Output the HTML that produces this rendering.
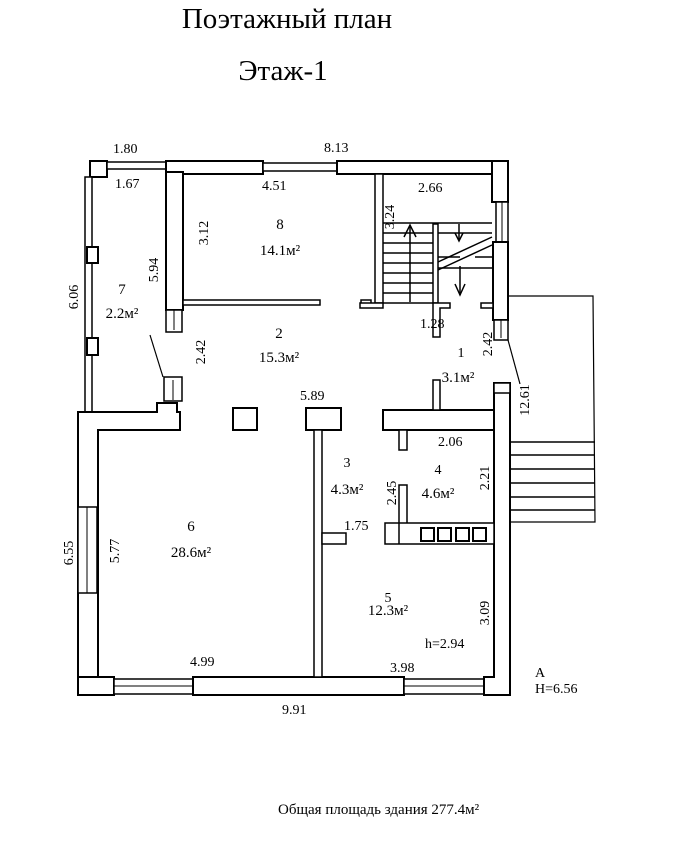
<!DOCTYPE html>
<html><head><meta charset="utf-8"><style>
html,body{margin:0;padding:0;background:#fff;}
svg{display:block}
text{font-family:"Liberation Serif",serif;fill:#000}
</style></head><body>
<svg width="677" height="843" viewBox="0 0 677 843" xmlns="http://www.w3.org/2000/svg">
<g fill="#fff" stroke="#000" stroke-width="2">
<rect x="90" y="161" width="17" height="16"/>
<rect x="107" y="162" width="60" height="7" stroke-width="1.5"/>
<rect x="166" y="161" width="97" height="13"/>
<rect x="263" y="163" width="74" height="8" stroke-width="1.5"/>
<rect x="337" y="161" width="171" height="13"/>
<rect x="166" y="172" width="17" height="138"/>
<rect x="166" y="310" width="16" height="22" stroke-width="1.5"/>
<line x1="174" y1="310" x2="174" y2="330" stroke-width="1"/>
<rect x="164" y="377" width="18" height="24" stroke-width="1.5"/>
<line x1="173" y1="380" x2="173" y2="400" stroke-width="1"/>
<rect x="85" y="177" width="7" height="236" stroke-width="1.5"/>
<rect x="87" y="247" width="11" height="16"/>
<rect x="87" y="338" width="11" height="17"/>
<path d="M78 412 L157 412 L157 403 L177 403 L177 412 L180 412 L180 430 L98 430 L98 677 L78 677 Z"/>
<rect x="78" y="507" width="19" height="86" stroke-width="1.5"/>
<line x1="87" y1="507" x2="87" y2="593" stroke-width="1"/>
<rect x="78" y="677" width="36" height="18"/>
<rect x="114" y="679" width="79" height="15" stroke-width="1.5"/>
<line x1="114" y1="686" x2="193" y2="686" stroke-width="1"/>
<rect x="193" y="677" width="211" height="18"/>
<rect x="404" y="679" width="80" height="15" stroke-width="1.5"/>
<line x1="404" y1="686" x2="484" y2="686" stroke-width="1"/>
<path d="M484 677 L494 677 L494 383 L510 383 L510 695 L484 695 Z"/>
<rect x="492" y="161" width="16" height="41"/>
<rect x="496" y="202" width="12" height="40" stroke-width="1.5"/>
<line x1="502" y1="202" x2="502" y2="242" stroke-width="1"/>
<rect x="493" y="242" width="15" height="78"/>
<rect x="494" y="320" width="14" height="20" stroke-width="1.5"/>
<line x1="501" y1="320" x2="501" y2="338" stroke-width="1"/>
<rect x="494" y="383" width="16" height="10" stroke-width="1.5"/>
<rect x="183" y="300" width="137" height="5" stroke-width="1.5"/>
<rect x="361" y="300" width="10" height="5" stroke-width="1.5"/>
<rect x="375" y="174" width="8" height="129" stroke-width="1.5"/>
<rect x="360" y="303" width="23" height="5" stroke-width="1.5"/>
<rect x="433" y="224" width="5" height="79" stroke-width="1.5"/>
<path d="M433 303 L450 303 L450 308 L440 308 L440 337 L433 337 Z" stroke-width="1.5"/>
<rect x="481" y="303" width="12" height="5" stroke-width="1.5"/>
<rect x="233" y="408" width="24" height="22"/>
<rect x="306" y="408" width="35" height="22"/>
<rect x="314" y="430" width="8" height="247" stroke-width="1.5"/>
<rect x="322" y="533" width="24" height="11" stroke-width="1.5"/>
<rect x="383" y="410" width="111" height="20"/>
<rect x="433" y="380" width="7" height="30" stroke-width="1.5"/>
<rect x="399" y="430" width="8" height="20" stroke-width="1.5"/>
<rect x="399" y="485" width="8" height="40" stroke-width="1.5"/>
<rect x="385" y="523" width="109" height="21" stroke-width="1.5"/>
<line x1="399" y1="523" x2="399" y2="544" stroke-width="1.5"/>
<rect x="421" y="528" width="13" height="13"/>
<rect x="438" y="528" width="13" height="13"/>
<rect x="456" y="528" width="13" height="13"/>
<rect x="473" y="528" width="13" height="13"/>
</g>
<g stroke="#000" stroke-width="1.5" fill="none">
<line x1="383" y1="223" x2="492" y2="223"/>
<line x1="383" y1="233" x2="433" y2="233"/><line x1="383" y1="243" x2="433" y2="243"/>
<line x1="383" y1="253" x2="433" y2="253"/><line x1="383" y1="263" x2="433" y2="263"/>
<line x1="383" y1="273" x2="433" y2="273"/><line x1="383" y1="283" x2="433" y2="283"/>
<line x1="383" y1="293" x2="433" y2="293"/><line x1="383" y1="303" x2="433" y2="303"/>
<line x1="438" y1="233" x2="492" y2="233"/>
<line x1="438" y1="257" x2="460" y2="257"/><line x1="475" y1="257" x2="492" y2="257"/>
<line x1="438" y1="268" x2="492" y2="268"/>
<line x1="438" y1="262" x2="492" y2="237"/>
<line x1="438" y1="270" x2="492" y2="245"/>
<line x1="410" y1="226" x2="410" y2="302"/>
<polyline points="404,237 410,225 416,237"/>
<line x1="459" y1="224" x2="459" y2="240"/><polyline points="455,233 459,241 463,233"/>
<line x1="460" y1="266" x2="460" y2="295"/><polyline points="455,284 460,295 465,284"/>
<polyline points="508,296 593,296 595,522 510,522" stroke-width="1.2"/>
<line x1="510" y1="442" x2="595" y2="442"/><line x1="510" y1="455" x2="595" y2="455"/>
<line x1="510" y1="469" x2="595" y2="469"/><line x1="510" y1="483" x2="595" y2="483"/>
<line x1="510" y1="497" x2="595" y2="497"/><line x1="510" y1="510" x2="595" y2="510"/>
<line x1="510" y1="442" x2="510" y2="522"/>
<line x1="508" y1="340" x2="520" y2="384" stroke-width="1.2"/>
<line x1="150" y1="335" x2="163" y2="377" stroke-width="1.2"/>
</g>
<g font-size="14">
<text x="287" y="28" font-size="29" text-anchor="middle">Поэтажный план</text>
<text x="283" y="80" font-size="29" text-anchor="middle">Этаж-1</text>
<text x="113" y="153">1.80</text>
<text x="324" y="152">8.13</text>
<text x="115" y="188">1.67</text>
<text x="262" y="190">4.51</text>
<text x="418" y="192">2.66</text>
<text x="280" y="229" text-anchor="middle" font-size="15">8</text>
<text x="280" y="255" text-anchor="middle" font-size="15">14.1м²</text>
<text x="122" y="294" text-anchor="middle" font-size="15">7</text>
<text x="122" y="318" text-anchor="middle" font-size="15">2.2м²</text>
<text x="279" y="338" text-anchor="middle" font-size="15">2</text>
<text x="279" y="362" text-anchor="middle" font-size="15">15.3м²</text>
<text x="420" y="328">1.28</text>
<text x="461" y="357" text-anchor="middle">1</text>
<text x="458" y="382" text-anchor="middle" font-size="15">3.1м²</text>
<text x="300" y="400">5.89</text>
<text x="438" y="446">2.06</text>
<text x="347" y="467" text-anchor="middle">3</text>
<text x="347" y="494" text-anchor="middle" font-size="15">4.3м²</text>
<text x="438" y="474" text-anchor="middle">4</text>
<text x="438" y="498" text-anchor="middle" font-size="15">4.6м²</text>
<text x="344" y="530">1.75</text>
<text x="191" y="531" text-anchor="middle" font-size="15">6</text>
<text x="191" y="557" text-anchor="middle" font-size="15">28.6м²</text>
<text x="388" y="602" text-anchor="middle">5</text>
<text x="388" y="615" text-anchor="middle" font-size="15">12.3м²</text>
<text x="425" y="648">h=2.94</text>
<text x="190" y="666">4.99</text>
<text x="390" y="672">3.98</text>
<text x="535" y="677">A</text>
<text x="535" y="693">H=6.56</text>
<text x="282" y="714">9.91</text>
<text x="278" y="814" font-size="15">Общая площадь здания 277.4м²</text>
<text transform="translate(208,233) rotate(-90)" text-anchor="middle">3.12</text>
<text transform="translate(158,270) rotate(-90)" text-anchor="middle">5.94</text>
<text transform="translate(78,297) rotate(-90)" text-anchor="middle">6.06</text>
<text transform="translate(205,352) rotate(-90)" text-anchor="middle">2.42</text>
<text transform="translate(394,217) rotate(-90)" text-anchor="middle">3.24</text>
<text transform="translate(492,344) rotate(-90)" text-anchor="middle">2.42</text>
<text transform="translate(529,400) rotate(-90)" text-anchor="middle">12.61</text>
<text transform="translate(489,478) rotate(-90)" text-anchor="middle">2.21</text>
<text transform="translate(396,493) rotate(-90)" text-anchor="middle">2.45</text>
<text transform="translate(119,551) rotate(-90)" text-anchor="middle">5.77</text>
<text transform="translate(73,553) rotate(-90)" text-anchor="middle">6.55</text>
<text transform="translate(489,613) rotate(-90)" text-anchor="middle">3.09</text>
</g>
</svg>
</body></html>
